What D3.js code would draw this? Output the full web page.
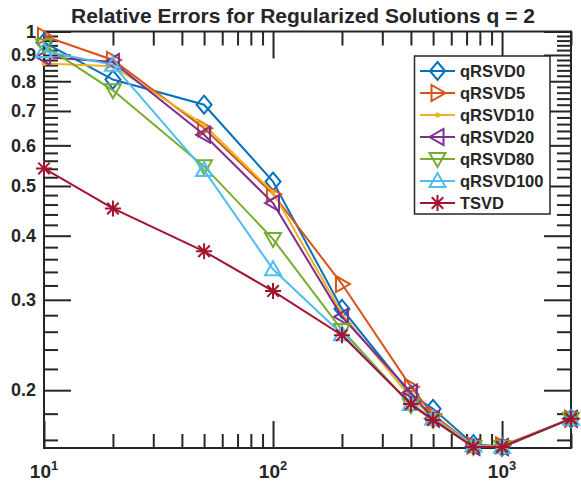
<!DOCTYPE html>
<html>
<head>
  <script src="https://d3js.org/d3.v7.min.js"></script>
  <style>
    body { margin: 0; background: #fff; }
    text { font-family: "Liberation Sans", Helvetica, Arial, sans-serif; font-weight: bold; fill: #262626; }
    .axis path, .axis line { stroke: #262626; stroke-width: 2; }
  </style>
</head>
<body>
  <script>
    // data
    var xValues = [10, 20, 50, 100, 200, 400, 500, 750, 1000, 2000];
    var qRSVD0   = [0.952, 0.806, 0.720, 0.510, 0.288, 0.196, 0.184, 0.157, 0.155, 0.176];
    var qRSVD5   = [0.980, 0.880, 0.648, 0.482, 0.322, 0.203, 0.179, 0.156, 0.156, 0.176];
    var qRSVD10  = [0.866, 0.856, 0.658, 0.486, 0.282, 0.193, 0.177, 0.156, 0.155, 0.176];
    var qRSVD20  = [0.892, 0.872, 0.629, 0.463, 0.278, 0.198, 0.176, 0.155, 0.155, 0.176];
    var qRSVD80  = [0.940, 0.768, 0.546, 0.394, 0.262, 0.187, 0.175, 0.155, 0.155, 0.176];
    var qRSVD100 = [0.916, 0.861, 0.537, 0.344, 0.257, 0.188, 0.176, 0.156, 0.155, 0.176];
    var TSVD     = [0.541, 0.452, 0.373, 0.312, 0.256, 0.188, 0.175, 0.155, 0.155, 0.176];

    var seriesNames = ["qRSVD0", "qRSVD5", "qRSVD10", "qRSVD20", "qRSVD80", "qRSVD100", "TSVD"];
    var seriesValues = [qRSVD0, qRSVD5, qRSVD10, qRSVD20, qRSVD80, qRSVD100, TSVD];
    var seriesColors = ["#0072BD", "#D95319", "#EDB120", "#7E2F8E", "#77AC30", "#4DBEEE", "#A2142F"];
    var seriesMarkers = ["diamond", "right", "point", "left", "down", "up", "star"];

    var xMajor = [10, 100, 1000];
    var xMinor = [20, 30, 40, 50, 60, 70, 80, 90, 200, 300, 400, 500, 600, 700, 800, 900, 2000];
    var yMajor = [0.2, 0.3, 0.4, 0.5, 0.6, 0.7, 0.8, 0.9, 1];
    var yMinor = [0.16, 0.18, 0.22, 0.24, 0.26, 0.28, 0.32, 0.34, 0.36, 0.38, 0.42, 0.44, 0.46, 0.48,
                  0.52, 0.54, 0.56, 0.58, 0.62, 0.64, 0.66, 0.68, 0.72, 0.74, 0.76, 0.78,
                  0.82, 0.84, 0.86, 0.88, 0.92, 0.94, 0.96, 0.98];
    var yLabels = ["0.2", "0.3", "0.4", "0.5", "0.6", "0.7", "0.8", "0.9", "1"];

    var W = 581, H = 481;
    var pLeft = 44, pRight = 571, pTop = 31.5, pBottom = 448;

    var svg = d3.select("body").append("svg")
      .attr("width", W)
      .attr("height", H);

    var x = d3.scaleLog().domain([10, 2000]).range([pLeft, pRight]);
    var y = d3.scaleLog().domain([0.1543, 1]).range([pBottom, pTop]);

    // ticks (inward, on all four sides)
    function tickAxis(gen, tv, size, tx, ty) {
      svg.append("g")
        .attr("class", "axis")
        .attr("transform", "translate(" + tx + "," + ty + ")")
        .call(gen.tickValues(tv).tickSize(size).tickSizeOuter(0).tickFormat(""))
        .call(function (g) { g.select(".domain").remove(); });
    }
    tickAxis(d3.axisBottom(x), xMinor, -14, 0, pBottom);
    tickAxis(d3.axisBottom(x), xMajor, -27, 0, pBottom);
    tickAxis(d3.axisTop(x), xMinor, -14, 0, pTop);
    tickAxis(d3.axisTop(x), xMajor, -27, 0, pTop);
    tickAxis(d3.axisLeft(y), yMinor, -14, pLeft, 0);
    tickAxis(d3.axisLeft(y), yMajor, -27, pLeft, 0);
    tickAxis(d3.axisRight(y), yMinor, -14, pRight, 0);
    tickAxis(d3.axisRight(y), yMajor, -27, pRight, 0);

    // box
    svg.append("rect")
      .attr("x", pLeft).attr("y", pTop)
      .attr("width", pRight - pLeft).attr("height", pBottom - pTop)
      .attr("fill", "none")
      .attr("stroke", "#262626")
      .attr("stroke-width", 2);

    // y tick labels
    svg.selectAll(".ylab")
      .data(yMajor)
      .enter().append("text")
      .attr("x", pLeft - 8)
      .attr("y", function (d) { return y(d); })
      .attr("dy", "0.35em")
      .attr("text-anchor", "end")
      .style("font-size", "18px")
      .text(function (d, i) { return yLabels[i]; });

    // x tick labels 10^n
    xMajor.forEach(function (v) {
      var t = svg.append("text")
        .attr("x", x(v))
        .attr("y", 478)
        .attr("text-anchor", "middle")
        .style("font-size", "19px");
      t.append("tspan").text("10");
      t.append("tspan")
        .attr("dy", -8)
        .style("font-size", "13px")
        .text(String(Math.round(Math.log10(v))));
    });

    // title
    svg.append("text")
      .attr("x", 303)
      .attr("y", 23)
      .attr("text-anchor", "middle")
      .style("font-size", "21px")
      .text("Relative Errors for Regularized Solutions q = 2");

    function drawMarker(g, type, cx, cy, color) {
      var r = 8;
      if (type === "diamond") {
        g.append("path")
          .attr("d", "M" + cx + "," + (cy - 9) + "L" + (cx + 7.5) + "," + cy + "L" + cx + "," + (cy + 9) + "L" + (cx - 7.5) + "," + cy + "Z")
          .attr("fill", "none").attr("stroke", color).attr("stroke-width", 2);
      } else if (type === "point") {
        g.append("circle").attr("cx", cx).attr("cy", cy).attr("r", 2.5).attr("fill", color);
      } else if (type === "star") {
        var d = "M" + (cx - r) + "," + cy + "L" + (cx + r) + "," + cy +
                "M" + cx + "," + (cy - r) + "L" + cx + "," + (cy + r);
        var s = r * 0.72;
        d += "M" + (cx - s) + "," + (cy - s) + "L" + (cx + s) + "," + (cy + s) +
             "M" + (cx - s) + "," + (cy + s) + "L" + (cx + s) + "," + (cy - s);
        g.append("path").attr("d", d).attr("fill", "none").attr("stroke", color).attr("stroke-width", 2);
      } else {
        var pts;
        if (type === "up") pts = [[0, -r], [r, r * 0.75], [-r, r * 0.75]];
        if (type === "down") pts = [[0, r], [r, -r * 0.75], [-r, -r * 0.75]];
        if (type === "right") pts = [[r, 0], [-r * 0.75, -r], [-r * 0.75, r]];
        if (type === "left") pts = [[-r, 0], [r * 0.75, -r], [r * 0.75, r]];
        g.append("path")
          .attr("d", "M" + pts.map(function (p) { return (cx + p[0]) + "," + (cy + p[1]); }).join("L") + "Z")
          .attr("fill", "none").attr("stroke", color).attr("stroke-width", 2);
      }
    }

    var line = d3.line()
      .x(function (d) { return x(d[0]); })
      .y(function (d) { return y(d[1]); });

    seriesValues.forEach(function (vals, i) {
      var g = svg.append("g");
      var pts = xValues.map(function (xv, j) { return [xv, vals[j]]; });
      g.append("path")
        .attr("d", line(pts))
        .attr("fill", "none")
        .attr("stroke", seriesColors[i])
        .attr("stroke-width", 2);
      pts.forEach(function (p) {
        drawMarker(g, seriesMarkers[i], x(p[0]), y(p[1]), seriesColors[i]);
      });
    });

    // legend
    var lg = svg.append("g");
    lg.append("rect")
      .attr("x", 414.5).attr("y", 56)
      .attr("width", 135.5).attr("height", 158)
      .attr("fill", "#fff")
      .attr("stroke", "#262626")
      .attr("stroke-width", 1.5);
    seriesNames.forEach(function (name, i) {
      var ly = 71 + i * 22;
      lg.append("line")
        .attr("x1", 420).attr("x2", 455)
        .attr("y1", ly).attr("y2", ly)
        .attr("stroke", seriesColors[i])
        .attr("stroke-width", 2);
      drawMarker(lg, seriesMarkers[i], 437.5, ly, seriesColors[i]);
      lg.append("text")
        .attr("x", 460)
        .attr("y", ly)
        .attr("dy", "0.35em")
        .style("font-size", "16.5px")
        .text(name);
    });
  </script>
</body>
</html>
